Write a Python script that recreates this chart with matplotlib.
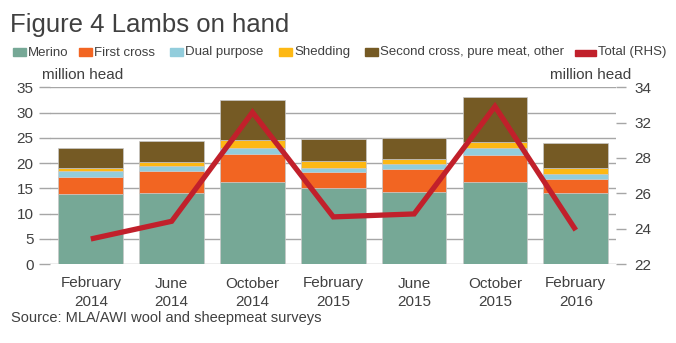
import matplotlib
matplotlib.use("Agg")
import matplotlib.pyplot as plt
from matplotlib.patches import Rectangle
import numpy as np

plt.rcParams['font.family'] = ['Liberation Sans', 'DejaVu Sans']

categories = ["February\n2014", "June\n2014", "October\n2014", "February\n2015",
              "June\n2015", "October\n2015", "February\n2016"]
merino = [13.9, 14.1, 16.3, 15.0, 14.3, 16.3, 14.0]
first_cross = [3.4, 4.4, 5.5, 3.3, 4.5, 5.3, 2.8]
dual_purpose = [1.2, 0.9, 1.2, 0.8, 1.1, 1.4, 1.0]
shedding = [0.6, 0.8, 1.5, 1.3, 0.9, 1.2, 1.2]
second_cross = [3.9, 4.2, 8.0, 4.3, 4.1, 8.8, 4.9]
total_rhs = [23.7, 24.9, 32.3, 25.2, 25.4, 32.7, 24.3]
left_ticks = [0, 5, 10, 15, 20, 25, 30, 35]
right_tick_labels = ["22", "24", "26", "28", "32", "34"]

series = [("Merino", merino, "#76A896"),
          ("First cross", first_cross, "#F26522"),
          ("Dual purpose", dual_purpose, "#92CDDC"),
          ("Shedding", shedding, "#FDB814"),
          ("Second cross, pure meat, other", second_cross, "#755A24")]
line_color = "#C1202B"
text_color = "#404040"
grid_color = "#A6A6A6"

W, H = 676, 343
fig = plt.figure(figsize=(W / 100, H / 100), dpi=100)
ax = fig.add_axes([50.4 / W, (H - 264) / H, (616.2 - 50.4) / W, (264 - 87.3) / H])

x = np.arange(len(categories))
bottom = np.zeros(len(categories))
for name, vals, col in series:
    ax.bar(x, vals, width=0.8, bottom=bottom, color=col, edgecolor="#C8C8C8",
           linewidth=0.5, zorder=2)
    bottom += np.array(vals)

ax.set_xlim(-0.5, len(categories) - 0.5)
ax.set_ylim(0, 35)
ax.set_yticks(left_ticks)
ax.yaxis.grid(True, color=grid_color, linewidth=1.0, zorder=0)
ax.set_axisbelow(True)
for s in ax.spines.values():
    s.set_visible(False)
ax.tick_params(axis='y', direction='out', length=8, width=1.0, color=grid_color,
               labelsize=11, labelcolor=text_color, pad=4)
ax.set_xticks(x)
ax.set_xticklabels(categories, linespacing=1.45)
ax.tick_params(axis='x', length=0, labelsize=11, labelcolor=text_color, pad=9)

ax2 = ax.twinx()
ax2.set_ylim(22, 34)
ax2.set_yticks(np.linspace(22, 34, 6))
ax2.set_yticklabels(right_tick_labels)
for s in ax2.spines.values():
    s.set_visible(False)
ax2.tick_params(axis='y', direction='out', length=7, width=1.0, color=grid_color,
                labelsize=11, labelcolor=text_color, pad=6)
ax2.plot(x, total_rhs, color=line_color, linewidth=3.8, solid_joinstyle='miter',
         solid_capstyle='butt', zorder=5)

# Title
fig.text(10 / W, (H - 31.7) / H, "Figure 4 Lambs on hand", fontsize=18.5,
         color=text_color, va='baseline', ha='left')

# Legend (manual)
leg_x = [13.3, 79.3, 170, 279, 365]
for (name, vals, col), lx in zip(series, leg_x):
    fig.patches.append(Rectangle((lx / W, (H - 55.5) / H), 13 / W, 7.5 / H,
                                 transform=fig.transFigure, color=col))
    fig.text((lx + 15) / W, (H - 55.5) / H, name, fontsize=9.5, color=text_color,
             va='baseline', ha='left')
fig.patches.append(Rectangle((575 / W, (H - 55.5) / H), 21 / W, 5 / H,
                             transform=fig.transFigure, color=line_color))
fig.text(598 / W, (H - 55.5) / H, "Total (RHS)", fontsize=9.5, color=text_color,
         va='baseline', ha='left')

# Units
fig.text(41.7 / W, (H - 79.3) / H, "million head", fontsize=11, color=text_color,
         va='baseline', ha='left')
fig.text(631.7 / W, (H - 79.3) / H, "million head", fontsize=11, color=text_color,
         va='baseline', ha='right')

# Source
fig.text(11 / W, (H - 322) / H, "Source: MLA/AWI wool and sheepmeat surveys",
         fontsize=10.5, color=text_color, va='baseline', ha='left')

fig.savefig("out.png", dpi=100)
